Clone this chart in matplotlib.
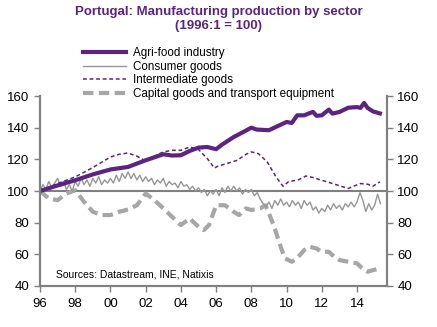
import numpy as np
from matplotlib import pyplot as plt

plt.rcParams['font.family'] = ['Liberation Sans', 'DejaVu Sans']

# agri-food industry (thick purple)
agri_t = [1996, 1997, 1998, 1999, 2000, 2001, 2002, 2003, 2003.5, 2004, 2004.5,
          2005, 2005.5, 2006, 2006.3, 2007, 2007.5, 2008, 2008.3, 2009, 2009.4,
          2010, 2010.3, 2010.6, 2011, 2011.5, 2011.7, 2012, 2012.4, 2012.6, 2013,
          2013.5, 2014, 2014.2, 2014.4, 2014.6, 2014.9, 2015.3]
agri_v = [100, 103.5, 106.8, 110.5, 113.6, 115.2, 119.4, 123.2, 122.4, 122.6, 125.3,
          127.4, 127.8, 126.4, 129, 134.1, 137, 140, 138.8, 138.4, 140.5,
          143.6, 143, 147.8, 147.8, 150, 147.5, 147.8, 151.4, 148.9, 149.9,
          152.6, 153, 152.5, 155.6, 152.5, 150.3, 149]

# consumer goods, every two months from 1996:1
cons_v = [100, 104, 101, 106, 102, 105,
          108, 103, 106, 101, 104, 100,
          106, 103, 108, 104, 107, 103,
          108, 105, 109, 104, 107, 105,
          108, 105, 110, 106, 111, 108,
          112, 108, 111, 107, 110, 106,
          109, 106, 108, 104, 107, 105,
          108, 103, 106, 104, 105, 102,
          106, 103, 104, 101, 103, 100,
          102, 99, 101, 97, 100, 98,
          101, 97, 102, 99, 103, 100,
          103, 100, 102, 98, 101, 99,
          101, 97, 99, 95, 92, 90,
          93, 89, 94, 91, 95, 91,
          93, 90, 94, 91, 93, 89,
          94, 91, 93, 88, 90, 86,
          89, 87, 91, 88, 92, 89,
          91, 88, 92, 90, 93, 90,
          93, 99, 94, 87, 92, 88,
          91, 98, 92]
cons_t = 1996 + np.arange(len(cons_v)) / 6.0

# intermediate goods
inter_t = [1996, 1997, 1998, 1999, 2000, 2000.5, 2001, 2001.5, 2002, 2002.5, 2003,
           2003.5, 2004, 2004.5, 2005, 2005.5, 2005.9, 2006.1, 2006.6, 2007.2,
           2007.7, 2008, 2008.4, 2008.9, 2009.4, 2009.8, 2010.1, 2010.7, 2011.1,
           2011.5, 2012, 2012.5, 2013.1, 2013.5, 2013.8, 2014.2, 2014.6, 2014.9, 2015.3]
inter_v = [100, 104.7, 108.9, 114.8, 121.5, 123.2, 124, 122, 119, 122, 124.7,
           125.7, 125.7, 127.8, 126.2, 120.5, 114.5, 115.7, 117.3, 119.4,
           123.2, 124.7, 123.6, 118.4, 108.9, 103, 105.8, 107.2, 109.5,
           108.5, 106.8, 105.1, 103, 101.6, 103, 104.7, 104.3, 103, 105.8]

# capital goods and transport equipment
cap_t = [1996, 1996.5, 1997, 1997.5, 1998, 1998.5, 1999, 1999.5, 2000, 2000.5,
         2001, 2001.5, 2002, 2002.5, 2003, 2003.5, 2004, 2004.5, 2005, 2005.3,
         2005.6, 2006, 2006.5, 2007, 2007.3, 2007.7, 2008, 2008.5, 2008.8, 2009,
         2009.3, 2009.6, 2009.9, 2010.3, 2010.6, 2011, 2011.3, 2011.7, 2012,
         2012.4, 2012.7, 2013, 2013.5, 2014, 2014.3, 2014.6, 2014.9, 2015.3]
cap_v = [100, 95.3, 94.2, 98.4, 100.5, 93.2, 86.9, 84.8, 84.8, 86.9,
         88.3, 91, 98.4, 94.2, 89, 83.7, 78.5, 82.7, 77.4, 75.3,
         78.5, 91, 91, 86.9, 84.8, 89, 88, 89, 91, 85.8,
         77.4, 66.9, 57.5, 55.3, 57.5, 62.7, 64.8, 63.7, 61.6,
         61.6, 58.5, 56.4, 55.3, 54.3, 51.1, 49, 50, 51.1]

year_ticks = [1996, 1998, 2000, 2002, 2004, 2006, 2008, 2010, 2012, 2014]
year_labels = ['96', '98', '00', '02', '04', '06', '08', '10', '12', '14']
y_ticks = [40, 60, 80, 100, 120, 140, 160]

purple = '#5b2481'
grey = '#969696'
axis_grey = '#808080'

fig = plt.figure(figsize=(4.37, 3.27), dpi=100)
ax = fig.add_axes([0.0915, 0.1254, 0.794, 0.581])

ax.axhline(100, color=axis_grey, lw=1.5, zorder=1)
l1, = ax.plot(agri_t, agri_v, color=purple, lw=3, label='Agri-food industry', zorder=5)
l2, = ax.plot(cons_t, cons_v, color=grey, lw=1, label='Consumer goods', zorder=3)
l3, = ax.plot(inter_t, inter_v, color=purple, lw=1.1, dashes=(2.5, 1.8),
              label='Intermediate goods', zorder=4)
l4, = ax.plot(cap_t, cap_v, color='#a6a6a6', lw=3, dashes=(2.5, 1.3),
              label='Capital goods and transport equipment', zorder=2)

ax.set_xlim(1996, 2015.7)
ax.set_ylim(40, 160)
ax.set_xticks(year_ticks)
ax.set_xticklabels(year_labels)
ax.set_yticks(y_ticks)

ax2 = ax.twinx()
ax2.set_ylim(40, 160)
ax2.set_yticks(y_ticks)

for a in (ax, ax2):
    a.spines['top'].set_visible(False)
    for s in ('left', 'right', 'bottom'):
        a.spines[s].set_color(axis_grey)
        a.spines[s].set_linewidth(1.5)
    a.tick_params(colors=axis_grey, labelcolor='black', labelsize=9.5,
                  width=1, length=4, direction='out')
ax.tick_params(axis='x', pad=5)

fig.text(0.5, 0.982, 'Portugal: Manufacturing production by sector\n(1996:1 = 100)',
         ha='center', va='top', fontsize=9.5, fontweight='bold', color=purple,
         linespacing=1.25)

fig.legend(handles=[l1, l2, l3, l4], loc='upper left',
           bbox_to_anchor=(0.19, 0.855), frameon=False, fontsize=8.4,
           handlelength=3.7, handletextpad=0.6, labelspacing=0.12,
           borderaxespad=0, borderpad=0)

ax.text(1996.9, 45.5, 'Sources: Datastream, INE, Natixis', fontsize=7.5)

fig.savefig('out.png', dpi=100)
